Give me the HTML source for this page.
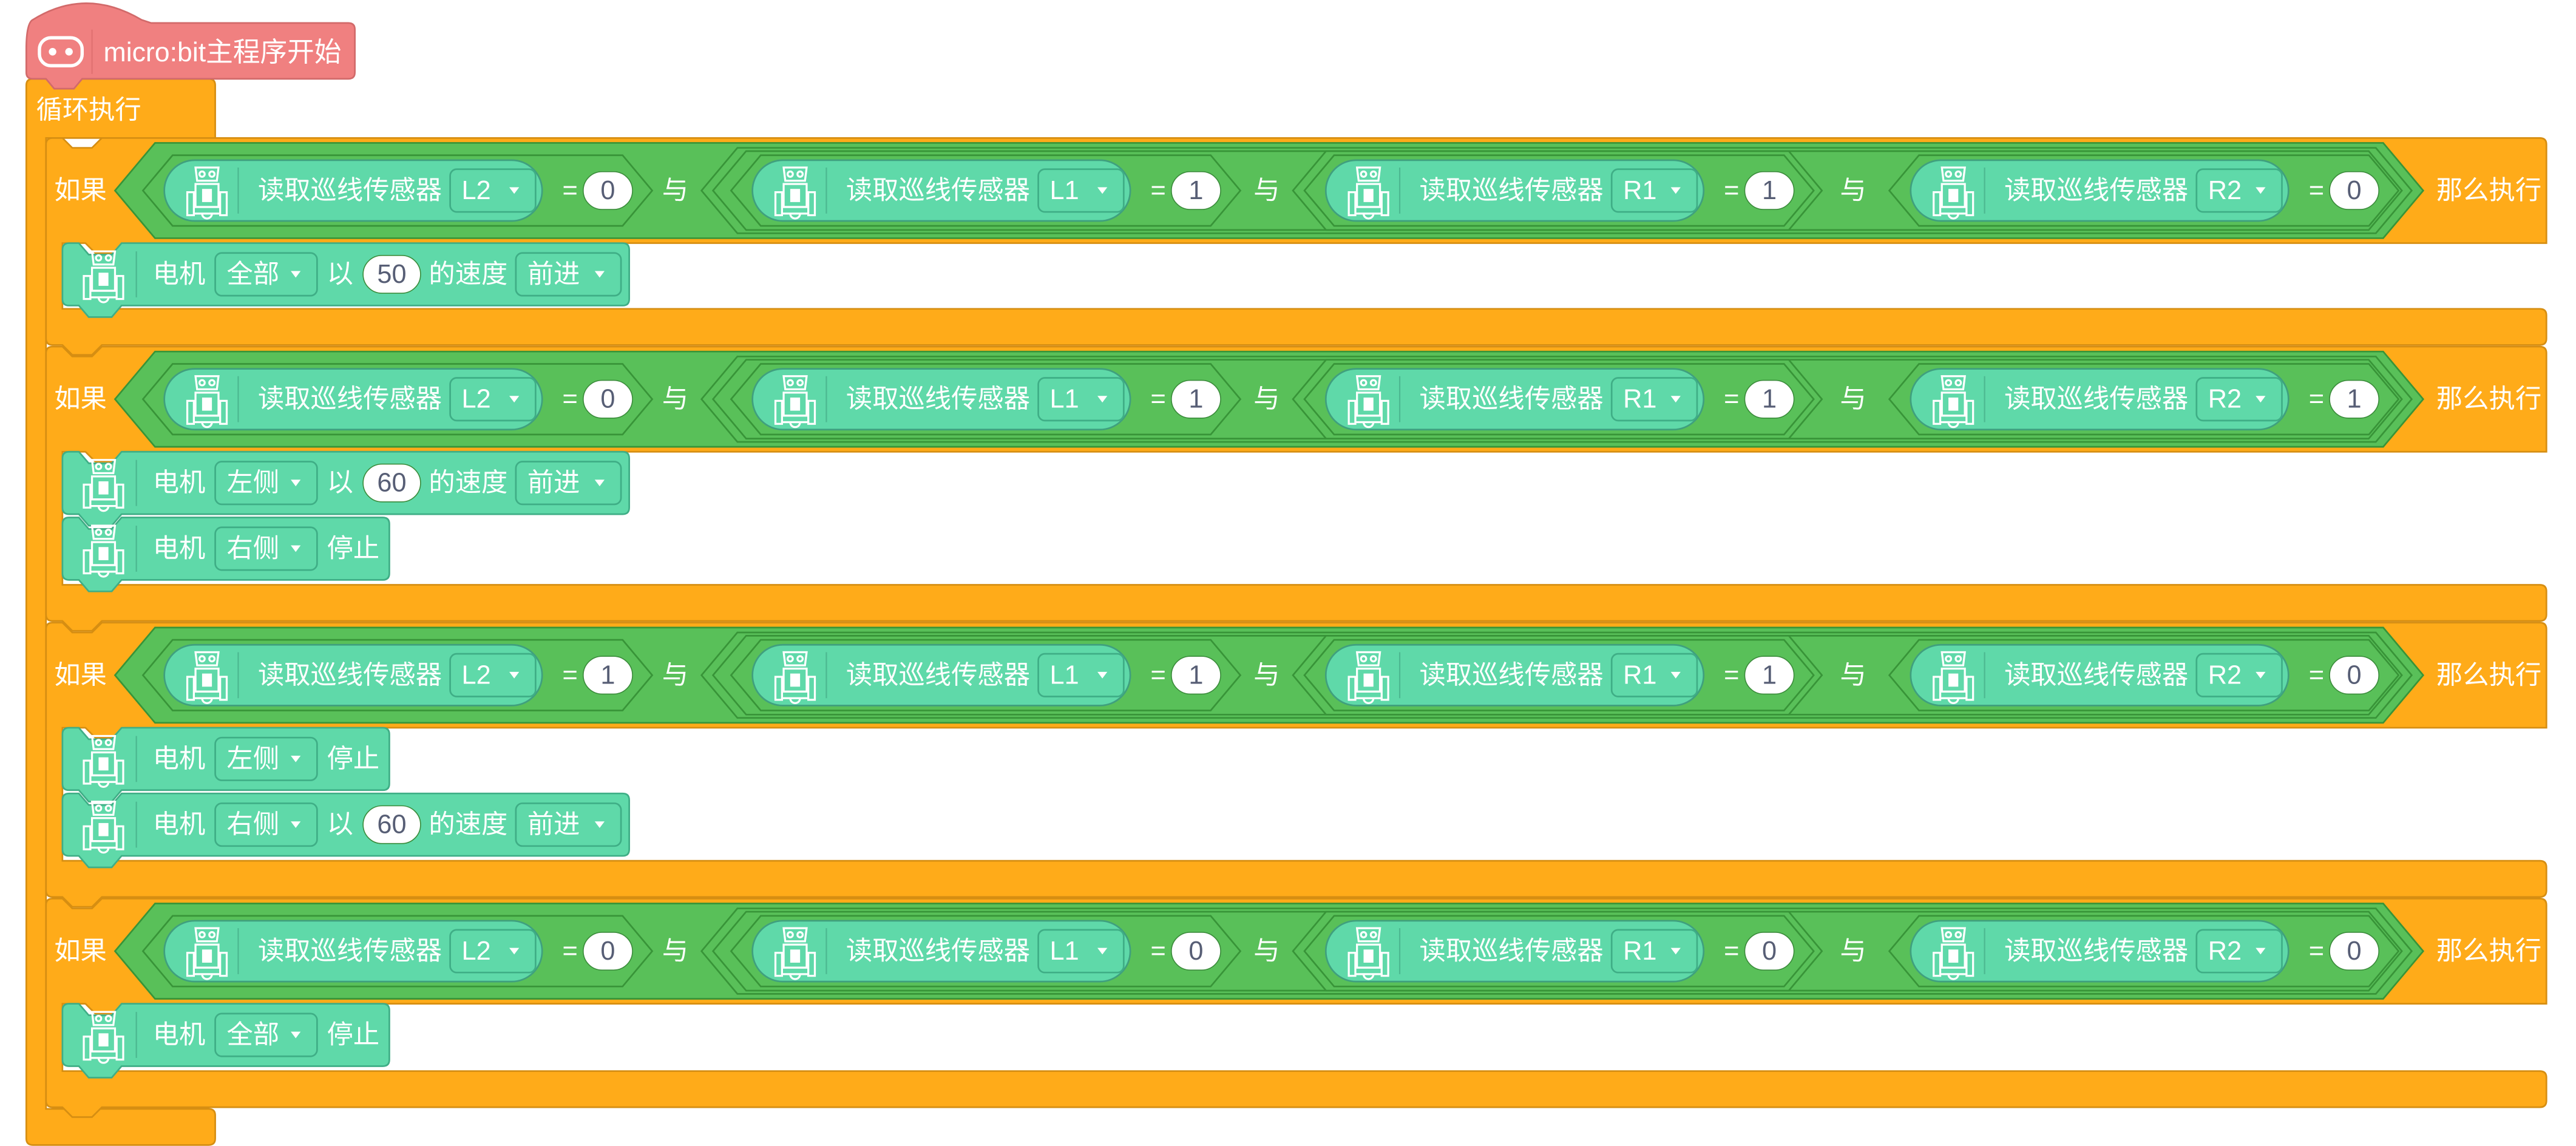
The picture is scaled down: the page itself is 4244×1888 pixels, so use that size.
<!DOCTYPE html>
<html><head><meta charset="utf-8">
<style>
html,body{margin:0;padding:0;background:#fff;width:4244px;height:1888px;overflow:hidden}
svg{display:block}
text{font-family:"Liberation Sans","Noto Sans CJK SC",sans-serif;fill:#fff}
</style></head>
<body>
<svg id="s" width="4244" height="1888" viewBox="0 0 1568 697.6" preserveAspectRatio="none" xmlns="http://www.w3.org/2000/svg"></svg>
<script>
const NS='http://www.w3.org/2000/svg';
const svg=document.getElementById('s');
function el(tag,attrs,parent){const e=document.createElementNS(NS,tag);for(const k in attrs)e.setAttribute(k,attrs[k]);(parent||svg).appendChild(e);return e;}
function txt(x,y,s,size,parent,fill,anchor){const t=el('text',{x:x,y:y,'font-size':size||16,'dominant-baseline':'central','text-anchor':anchor||'start'},parent);if(fill)t.setAttribute('style','fill:'+fill);t.textContent=s;return t;}
const OR='#FFAB19',ORS='#D68E12',GR='#59C059',GRS='#389438',TE='#5FD9A9',TES='#3FAE86';

function robot(x,cy,g){
  const a={fill:'none',stroke:'#fff','stroke-width':1.2};
  el('path',Object.assign({d:`M${x+6},${cy-14} L${x+20},${cy-14} L${x+19},${cy-6} L${x+7},${cy-6} Z`},a),g);
  el('circle',Object.assign({cx:x+10,cy:cy-10,r:1.6},a),g);
  el('circle',Object.assign({cx:x+16,cy:cy-10,r:1.6},a),g);
  el('rect',Object.assign({x:x+6,y:cy-4,width:14,height:14},a),g);
  el('rect',{x:x+10,y:cy-1,width:6,height:8,fill:'#fff'},g);
  el('rect',Object.assign({x:x+1,y:cy+1,width:4,height:14},a),g);
  el('rect',Object.assign({x:x+21,y:cy+1,width:4,height:14},a),g);
  el('path',Object.assign({d:`M${x+5},${cy+10} L${x+21},${cy+10} M${x+5},${cy+14} L${x+21},${cy+14} M${x+10},${cy+14} a3,3 0 0 0 6,0`},a),g);
}
function hex(x1,x2,y1,y2,fill,stroke,g){
  const h=y2-y1,m=(y1+y2)/2,i=h*0.42;
  return el('path',{d:`M${x1},${m} L${x1+i},${y1} L${x2-i},${y1} L${x2},${m} L${x2-i},${y2} L${x1+i},${y2} Z`,fill:fill,stroke:stroke,'stroke-width':1},g);
}
function dropdown(x,y,w,h,label,g){
  const d=el('g',{},g);
  
  
  el('rect',{x:x,y:y,width:w,height:h,rx:4,fill:TE,stroke:TES,'stroke-width':1},d);
  txt(x+7,y+h/2,label,16,d);
  el('path',{d:`M${x+w-16},${y+h/2-2} l6,0 l-3,4 z`,fill:'#fff'},d);
}
function oval(x,y,w,h,val,g){
  const d=el('g',{},g);
  
  
  el('rect',{x:x,y:y,width:w,height:h,rx:h/2,fill:'#fff',stroke:'#3b8c3b','stroke-width':0.6},d);
  txt(x+w/2,y+h/2,val,16,d,'#575E75','middle');
}
function comparison(px,sensor,val,cy,g){
  const c=el('g',{},g);
  
  
  hex(px-13,px+297,cy-21.5,cy+21.5,GR,GRS,c);
  el('rect',{x:px,y:cy-18.5,width:230,height:37,rx:18.5,fill:TE,stroke:'#3FA07E','stroke-width':1},c);
  robot(px+13,cy,c);
  el('line',{x1:px+45,y1:cy-14,x2:px+45,y2:cy+14,stroke:'#4cb890','stroke-width':0.8},c);
  txt(px+57,cy,'读取巡线传感器',16,c);
  dropdown(px+174,cy-13,52,26,sensor,c);
  txt(px+247,cy,'=',16,c,null,'middle');
  oval(px+255,cy-11.5,30,23,val,c);
}
function stmt(x,y,parts,w,g){
  const s=el('g',{},g);
  
  
  const h=38;
  el('path',{d:`M${x+4},${y} L${x+10},${y} L${x+16},${y+7} L${x+30},${y+7} L${x+36},${y} L${x+w-4},${y} Q${x+w},${y} ${x+w},${y+4} L${x+w},${y+h-4} Q${x+w},${y+h} ${x+w-4},${y+h} L${x+36},${y+h} L${x+30},${y+h+7} L${x+16},${y+h+7} L${x+10},${y+h} L${x+4},${y+h} Q${x},${y+h} ${x},${y+h-4} L${x},${y+4} Q${x},${y} ${x+4},${y} Z`,fill:TE,stroke:TES,'stroke-width':1},s);
  const cy=y+h/2;
  robot(x+12,cy,s);
  el('line',{x1:x+45,y1:cy-14,x2:x+45,y2:cy+14,stroke:'#4cb890','stroke-width':0.8},s);
  txt(x+55,cy,'电机',16,s);
  dropdown(x+93,cy-13,62,26,parts[0],s);
  if(parts[1]==null){txt(x+161,cy,'停止',16,s);}
  else{
    txt(x+161,cy,'以',16,s);
    oval(x+183,cy-11.5,35,23,parts[1],s);
    txt(x+223,cy,'的速度',16,s);
    dropdown(x+276,cy-13,64,26,'前进',s);
  }
}

// Loop block
const loop=el('g',{});


el('path',{d:'M16,52 Q16,48 20,48 L127,48 Q131,48 131,52 L131,84 L28,84 L28,675 L127,675 Q131,675 131,679 L131,693 Q131,697 127,697 L20,697 Q16,697 16,693 Z',fill:OR,stroke:ORS,'stroke-width':1},loop);
txt(22,67,'循环执行',16,loop);

// Hat block
const hat=el('g',{});


el('path',{d:'M16,30 Q16,14 20,12 Q52,-8 86,12 L92,14 L212,14 Q216,14 216,18 L216,44 Q216,48 212,48 L50,48 L45,54 L33,54 L28,48 L20,48 Q16,48 16,44 Z',fill:'#F08080',stroke:'#D26A6A','stroke-width':1},hat);
el('rect',{x:24,y:23,width:26,height:17,rx:7,fill:'none',stroke:'#fff','stroke-width':2},hat);
el('circle',{cx:32,cy:31.5,r:2.3,fill:'#fff'},hat);
el('circle',{cx:42,cy:31.5,r:2.3,fill:'#fff'},hat);
el('line',{x1:56,y1:18,x2:56,y2:45,stroke:'#e07070','stroke-width':0.8},hat);
txt(63,32,'micro:bit主程序开始',16.5,hat);

// If blocks data
const ifTops=[84,211,379,547];
const ifBottoms=[188,356,524,652];
const sensors=['L2','L1','R1','R2'];
const values=[['0','1','1','0'],['0','1','1','1'],['1','1','1','0'],['0','0','0','0']];
const bodies=[[['全部','50']],[['左侧','60'],['右侧',null]],[['左侧',null],['右侧','60']],[['全部',null]]];
const pills=[100,458,807,1163];
const ands=[411,771,1128];

ifTops.forEach((top,i)=>{
  const g=el('g',{});
  
  
  const yb=ifBottoms[i];
  el('path',{d:`M32,${top} L38,${top} L44,${top+6} L56,${top+6} L62,${top} L1546,${top} Q1550,${top} 1550,${top+4} L1550,${top+64} L76,${top+64} L70,${top+70} L58,${top+70} L52,${top+64} L38,${top+64} L38,${yb} L1546,${yb} Q1550,${yb} 1550,${yb+4} L1550,${yb+18} Q1550,${yb+22} 1546,${yb+22} L62,${yb+22} L56,${yb+28} L44,${yb+28} L38,${yb+22} L32,${yb+22} Q28,${yb+22} 28,${yb+18} L28,${top+4} Q28,${top} 32,${top} Z`,fill:OR,stroke:ORS,'stroke-width':1},g);
  const cy=top+32;
  txt(33,cy,'如果',16,g);
  hex(70,1475,cy-29,cy+29,GR,GRS,g);
  hex(427,1468,cy-26,cy+26,GR,GRS,g);
  hex(434,1462,cy-24,cy+24,GR,GRS,g);
  hex(787,1109,cy-24,cy+24,GR,GRS,g);
  pills.forEach((px,j)=>comparison(px,sensors[j],values[i][j],cy,g));
  ands.forEach(ax=>txt(ax,cy,'与',16,g,null,'middle'));
  txt(1483,cy,'那么执行',16,g);
  bodies[i].forEach((b,k)=>{
    const w=b[1]==null?199:345;
    stmt(38,top+64+k*40,b,w,g);
  });
});
</script>
</body></html>
